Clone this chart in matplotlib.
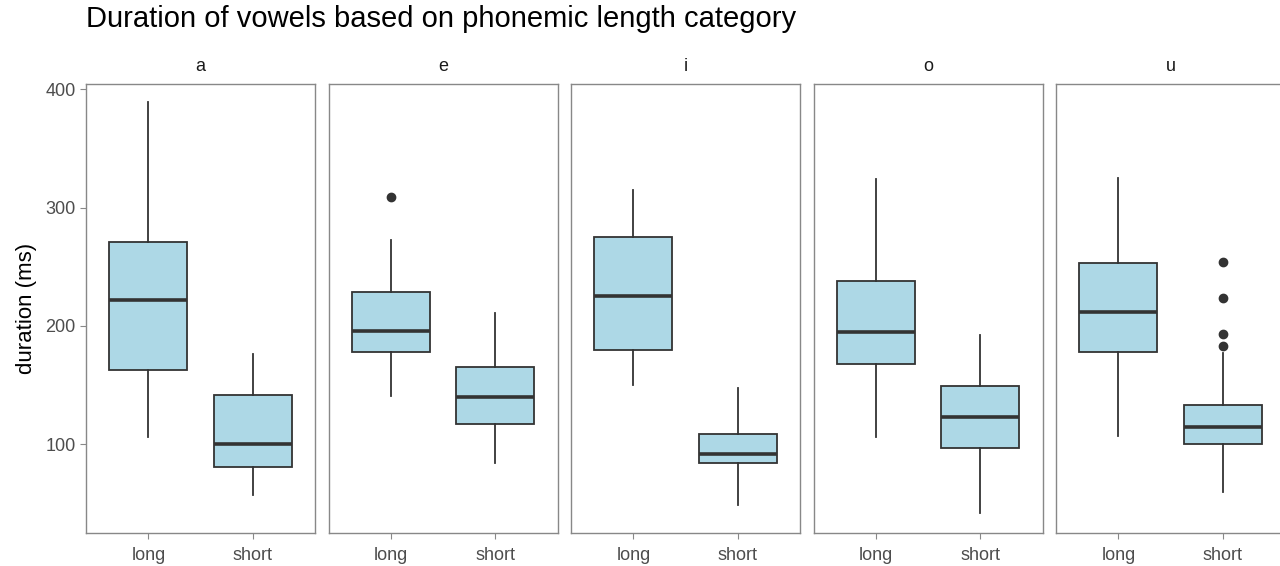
import matplotlib.pyplot as plt

plt.rcParams['font.family'] = ['Liberation Sans', 'DejaVu Sans']

# Box statistics (ms)
vowels = ['a', 'e', 'i', 'o', 'u']
categories = ['long', 'short']
whislo = {'a': [106, 57], 'e': [141, 84], 'i': [150, 49], 'o': [106, 42], 'u': [107, 60]}
q1 = {'a': [163, 81], 'e': [178, 117], 'i': [180, 84], 'o': [168, 97], 'u': [178, 100.5]}
med = {'a': [222, 100], 'e': [196, 140], 'i': [225, 92], 'o': [194.5, 123], 'u': [211.5, 115]}
q3 = {'a': [271, 142], 'e': [229, 165], 'i': [275, 109], 'o': [238, 149], 'u': [253, 133]}
whishi = {'a': [389, 176], 'e': [273, 211], 'i': [315, 148], 'o': [324, 192], 'u': [325.5, 177.5]}
fliers = {'a': [[], []], 'e': [[309], []], 'i': [[], []], 'o': [[], []],
          'u': [[], [254, 224, 193.5, 183.5]]}

W, H = 1280, 566
fig = plt.figure(figsize=(W / 100, H / 100), dpi=100)

left0, width, gap = 86, 229, 13.5
top, bottom = 83.5, 533
edge = '#333333'

for k, v in enumerate(vowels):
    x0 = left0 + k * (width + gap)
    ax = fig.add_axes([x0 / W, 1 - bottom / H, width / W, (bottom - top) / H])
    stats = []
    for j, c in enumerate(categories):
        stats.append(dict(whislo=whislo[v][j], q1=q1[v][j], med=med[v][j],
                          q3=q3[v][j], whishi=whishi[v][j], fliers=fliers[v][j]))
    ax.bxp(stats, positions=[1, 2], widths=0.75, patch_artist=True, showcaps=False,
           boxprops=dict(facecolor='#ADD8E6', edgecolor=edge, linewidth=1.3),
           medianprops=dict(color=edge, linewidth=2.6),
           whiskerprops=dict(color=edge, linewidth=1.3),
           flierprops=dict(marker='o', markerfacecolor=edge, markeredgecolor=edge,
                           markersize=6))
    ax.set_xlim(0.4, 2.6)
    ax.set_ylim(25, 405)
    ax.set_xticks([1, 2])
    ax.set_xticklabels(categories)
    for s in ax.spines.values():
        s.set_color('#888888')
        s.set_linewidth(1.0)
    ax.tick_params(colors='#888888', labelcolor='#4D4D4D', labelsize=13, length=4)
    ax.tick_params(axis='x', pad=6)
    if k == 0:
        ax.set_yticks([100, 200, 300, 400])
        ax.set_ylabel('duration (ms)', fontsize=16, labelpad=6)
    else:
        ax.set_yticks([])
    ax.set_title(v, fontsize=13, color='#1A1A1A', pad=9)

fig.text(86 / W, 1 - 19 / H, 'Duration of vowels based on phonemic length category',
         fontsize=21, va='center', ha='left')

plt.savefig('out.png', dpi=100)
